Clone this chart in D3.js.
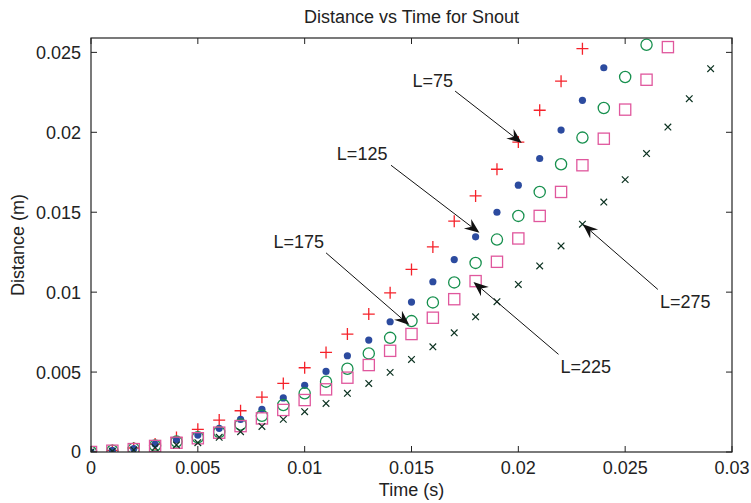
<!DOCTYPE html>
<html>
<head>
<meta charset="utf-8">
<script src="https://cdn.jsdelivr.net/npm/d3@7"></script>
<style>
  body { margin: 0; background: #fff; }
  svg text { font-family: "Liberation Sans", Arial, Helvetica, sans-serif; fill: #222; }
</style>
</head>
<body>
<div class="chart"></div>
<script>
// time samples (s)
const time = [0, 0.001, 0.002, 0.003, 0.004, 0.005, 0.006, 0.007, 0.008, 0.009,
  0.010, 0.011, 0.012, 0.013, 0.014, 0.015, 0.016, 0.017, 0.018, 0.019,
  0.020, 0.021, 0.022, 0.023, 0.024, 0.025, 0.026, 0.027, 0.028, 0.029];

// distance (m) per snout length
const distL75 = [0, 0.0001, 0.00025, 0.0005, 0.0009, 0.00142, 0.002, 0.00258, 0.00343, 0.00429,
  0.00527, 0.00623, 0.00738, 0.00863, 0.00996, 0.01142, 0.01283, 0.01444, 0.01602, 0.01769,
  0.01939, 0.02138, 0.0232, 0.02523];
const distL125 = [0, 0.0001, 0.00022, 0.0005, 0.00075, 0.00106, 0.00148, 0.00204, 0.00267, 0.00338,
  0.00417, 0.00504, 0.00602, 0.007, 0.00815, 0.00938, 0.01065, 0.01204, 0.01346, 0.015,
  0.01669, 0.01836, 0.02014, 0.022, 0.02404];
const distL175 = [0, 0.00008, 0.0002, 0.0004, 0.00065, 0.00092, 0.00125, 0.00172, 0.00227, 0.00294,
  0.00367, 0.0044, 0.00521, 0.00617, 0.00714, 0.00819, 0.00936, 0.01061, 0.01183, 0.01329,
  0.01477, 0.01627, 0.018, 0.01967, 0.02152, 0.02346, 0.02548];
const distL225 = [0, 0.00008, 0.00018, 0.00038, 0.00058, 0.00086, 0.00121, 0.00162, 0.0021, 0.00263,
  0.00325, 0.00392, 0.00465, 0.00544, 0.00633, 0.00738, 0.0084, 0.00956, 0.01069, 0.0119,
  0.01336, 0.01477, 0.01627, 0.01794, 0.0196, 0.02142, 0.02329, 0.02533];
const distL275 = [0, 0.00005, 0.00013, 0.00028, 0.00044, 0.00058, 0.00092, 0.00127, 0.0016, 0.00204,
  0.00252, 0.00304, 0.00367, 0.00429, 0.00498, 0.00579, 0.00658, 0.00746, 0.00846, 0.0094,
  0.01048, 0.01164, 0.01289, 0.01425, 0.01564, 0.01704, 0.01867, 0.02033, 0.0221, 0.02398];

const xTicks = [0, 0.005, 0.01, 0.015, 0.02, 0.025, 0.03];
const yTicks = [0, 0.005, 0.01, 0.015, 0.02, 0.025];

// arrow labels: text position, arrow tail, arrow tip (data units)
const labels = ["L=75", "L=125", "L=175", "L=225", "L=275"];
const labelPos = [[0.016, 0.02325], [0.01269, 0.01869], [0.00972, 0.01314], [0.02316, 0.00533], [0.02781, 0.00939]];
const arrowTail = [[0.01704, 0.02258], [0.01404, 0.01794], [0.011, 0.01246], [0.02188, 0.00611], [0.02653, 0.01017]];
const arrowTip = [[0.02016, 0.01933], [0.01818, 0.01371], [0.0149, 0.00794], [0.0179, 0.01064], [0.02302, 0.01425]];

const series = [
  { name: "L=75", values: distL75, marker: "plus", color: "#f5222a" },
  { name: "L=125", values: distL125, marker: "dot", color: "#2c4b9f" },
  { name: "L=175", values: distL175, marker: "circle", color: "#17904e" },
  { name: "L=225", values: distL225, marker: "square", color: "#e0579d" },
  { name: "L=275", values: distL275, marker: "cross", color: "#0d3322" }
];

const svg_width = 751;
const svg_height = 503;
const margin = { top: 38, right: 19, bottom: 51, left: 91 };

const svg = d3.select(".chart").append("svg")
  .attr("width", svg_width)
  .attr("height", svg_height);

const xScale = d3.scaleLinear([0, 0.03], [margin.left, svg_width - margin.right]);
const yScale = d3.scaleLinear([0, 0.0259], [svg_height - margin.bottom, margin.top]);

const fmt = d => d === 0 ? "0" : d3.format("")(+d.toFixed(3));

// clip to axes box
svg.append("clipPath").attr("id", "plot-clip")
  .append("rect")
  .attr("x", margin.left).attr("y", margin.top)
  .attr("width", xScale.range()[1] - margin.left)
  .attr("height", yScale.range()[0] - margin.top);

// markers
const plot = svg.append("g").attr("clip-path", "url(#plot-clip)");

series.forEach(s => {
  const pts = s.values.map((v, i) => [time[i], v]);
  const g = plot.append("g").attr("class", "series");
  const sel = g.selectAll("g").data(pts).join("g")
    .attr("transform", d => `translate(${xScale(d[0])},${yScale(d[1])})`);

  if (s.marker === "plus") {
    sel.append("path").attr("d", "M-6,0H6M0,-6V6")
      .attr("stroke", s.color).attr("stroke-width", 1.3).attr("fill", "none");
  } else if (s.marker === "dot") {
    sel.append("circle").attr("r", 3.6).attr("fill", s.color);
  } else if (s.marker === "circle") {
    sel.append("circle").attr("r", 5.6)
      .attr("fill", "none").attr("stroke", s.color).attr("stroke-width", 1.3);
  } else if (s.marker === "square") {
    sel.append("rect").attr("x", -5.6).attr("y", -5.6).attr("width", 11.2).attr("height", 11.2)
      .attr("fill", "none").attr("stroke", s.color).attr("stroke-width", 1.3);
  } else {
    sel.append("path").attr("d", "M-3.3,-3.3L3.3,3.3M-3.3,3.3L3.3,-3.3")
      .attr("stroke", s.color).attr("stroke-width", 1.2).attr("fill", "none");
  }
});

// axes box with inward ticks on all four sides
const axisColor = "#222";
const x0 = xScale.range()[0], x1 = xScale.range()[1];
const y0 = yScale.range()[0], y1 = yScale.range()[1];
const tickLen = 6;

const frame = svg.append("g").attr("class", "frame");
frame.append("rect")
  .attr("x", x0).attr("y", y1).attr("width", x1 - x0).attr("height", y0 - y1)
  .attr("fill", "none").attr("stroke", axisColor).attr("stroke-width", 1.2);

frame.selectAll(".xtick").data(xTicks).join("path")
  .attr("class", "xtick")
  .attr("d", d => `M${xScale(d)},${y0}v${-tickLen}M${xScale(d)},${y1}v${tickLen}`)
  .attr("stroke", axisColor).attr("stroke-width", 1);

frame.selectAll(".ytick").data(yTicks).join("path")
  .attr("class", "ytick")
  .attr("d", d => `M${x0},${yScale(d)}h${tickLen}M${x1},${yScale(d)}h${-tickLen}`)
  .attr("stroke", axisColor).attr("stroke-width", 1);

svg.append("g").selectAll("text").data(xTicks).join("text")
  .attr("x", d => xScale(d)).attr("y", y0 + 22)
  .attr("text-anchor", "middle")
  .style("font-size", "18px")
  .text(fmt);

svg.append("g").selectAll("text").data(yTicks).join("text")
  .attr("x", x0 - 10).attr("y", d => yScale(d))
  .attr("dy", "0.36em")
  .attr("text-anchor", "end")
  .style("font-size", "18px")
  .text(fmt);

// titles
svg.append("text")
  .attr("x", (x0 + x1) / 2).attr("y", 23)
  .attr("text-anchor", "middle").style("font-size", "18px")
  .text("Distance vs Time for Snout");

svg.append("text")
  .attr("x", (x0 + x1) / 2).attr("y", 496)
  .attr("text-anchor", "middle").style("font-size", "18px")
  .text("Time (s)");

svg.append("text")
  .attr("transform", `translate(24,${(y0 + y1) / 2}) rotate(-90)`)
  .attr("text-anchor", "middle").style("font-size", "18px")
  .text("Distance (m)");

// arrows with labels
const notes = svg.append("g").attr("class", "notes");
labels.forEach((lab, i) => {
  const tx = xScale(arrowTail[i][0]), ty = yScale(arrowTail[i][1]);
  const hx = xScale(arrowTip[i][0]), hy = yScale(arrowTip[i][1]);
  const ang = Math.atan2(hy - ty, hx - tx);
  const headLen = 15, headW = 6, notch = 10;
  const ux = Math.cos(ang), uy = Math.sin(ang);
  const px = -uy, py = ux;
  const bx = hx - ux * headLen, by = hy - uy * headLen;
  const nx = hx - ux * notch, ny = hy - uy * notch;

  notes.append("line")
    .attr("x1", tx).attr("y1", ty).attr("x2", nx).attr("y2", ny)
    .attr("stroke", "#111").attr("stroke-width", 1);

  notes.append("path")
    .attr("d", `M${hx},${hy}L${bx + px * headW},${by + py * headW}L${nx},${ny}L${bx - px * headW},${by - py * headW}Z`)
    .attr("fill", "#111");

  notes.append("text")
    .attr("x", xScale(labelPos[i][0])).attr("y", yScale(labelPos[i][1]))
    .attr("dy", "0.36em")
    .attr("text-anchor", "middle").style("font-size", "18px")
    .text(lab);
});
</script>
</body>
</html>
